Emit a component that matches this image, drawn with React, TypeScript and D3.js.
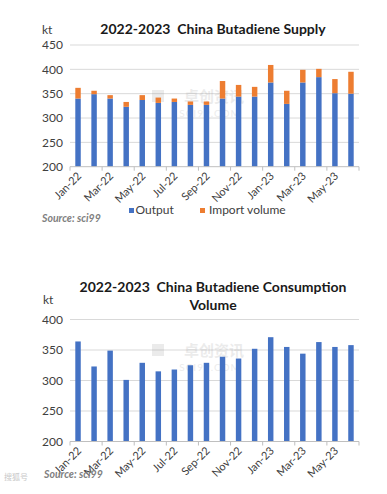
import * as d3 from "d3";

const months = [
  "Jan-22", "Feb-22", "Mar-22", "Apr-22", "May-22", "Jun-22",
  "Jul-22", "Aug-22", "Sep-22", "Oct-22", "Nov-22", "Dec-22",
  "Jan-23", "Feb-23", "Mar-23", "Apr-23", "May-23", "Jun-23",
];

// supply chart (kt)
const output = [340, 349, 340, 323, 337, 331, 333, 327, 327, 340, 344, 344, 373, 329, 373, 384, 351, 350];
const importVolume = [22, 7, 7, 10, 10, 11, 7, 7, 7, 36, 24, 20, 36, 27, 26, 17, 29, 45];
const supplyTicks = [200, 250, 300, 350, 400, 450];

// consumption chart (kt)
const consumption = [364, 323, 349, 301, 329, 315, 318, 325, 329, 339, 336, 352, 371, 355, 344, 363, 355, 358];
const consumptionTicks = [200, 250, 300, 350, 400];

const BLUE = "#4472c4";
const ORANGE = "#ed7d31";
const FONT = "Lato, 'Open Sans', sans-serif";

function YAxis({ ticks, x, y }: { ticks: number[]; x: d3.ScaleBand<string>; y: d3.ScaleLinear<number, number> }) {
  const [x0, x1] = x.range();
  return (
    <g>
      {ticks.map((t) => (
        <g key={t}>
          {t !== ticks[0] && (
            <line x1={x0} x2={x1} y1={y(t)} y2={y(t)} stroke="#d9d9d9" strokeWidth={1} />
          )}
          <text x={x0 - 7} y={y(t)} dy="0.35em" textAnchor="end" fontSize={12} fill="#404040">
            {t}
          </text>
        </g>
      ))}
    </g>
  );
}

function XAxis({ x, y0 }: { x: d3.ScaleBand<string>; y0: number }) {
  const [x0, x1] = x.range();
  const step = x.step();
  return (
    <g>
      <line x1={x0} x2={x1} y1={y0} y2={y0} stroke="#bfbfbf" />
      {months.map((m, i) =>
        i % 2 === 0 ? (
          <line key={m} x1={x0 + i * step} x2={x0 + i * step} y1={y0} y2={y0 + 4} stroke="#bfbfbf" />
        ) : null
      )}
      <line x1={x1} x2={x1} y1={y0} y2={y0 + 4} stroke="#bfbfbf" />
      {months.map((m, i) => {
        if (i % 2 !== 0) return null;
        const cx = (x(m) ?? 0) + x.bandwidth() / 2 + 4;
        const cy = y0 + 10;
        return (
          <text
            key={m}
            transform={`translate(${cx},${cy}) rotate(-45)`}
            textAnchor="end"
            fontSize={11}
            fill="#404040"
          >
            {m}
          </text>
        );
      })}
    </g>
  );
}

function Watermark({ cx, cy }: { cx: number; cy: number }) {
  return (
    <g opacity={0.16} fill="#8a8a8a">
      <rect x={cx - 58} y={cy - 18} width={12} height={12} />
      <text x={cx + 4} y={cy - 6} textAnchor="middle" fontSize={15} fontWeight="bold" fontFamily="'Noto Sans CJK SC'">
        卓创资讯
      </text>
      <text x={cx} y={cy + 9} textAnchor="middle" fontSize={10} letterSpacing={1}>
        SCI99.COM
      </text>
    </g>
  );
}

export default function App() {
  const xSupply = d3.scaleBand<string>().domain(months).range([70, 359]).paddingInner(0.66).paddingOuter(0.33);
  const ySupply = d3.scaleLinear().domain([200, 450]).range([166.7, 45]);
  const xCons = d3.scaleBand<string>().domain(months).range([70, 359]).paddingInner(0.66).paddingOuter(0.33);
  const yCons = d3.scaleLinear().domain([200, 400]).range([441.5, 319.5]);

  const stack = d3
    .stack<number>()
    .keys(["output", "import"])
    .value((i, key) => (key === "output" ? output[i] : importVolume[i]));
  const layers = stack(months.map((_, i) => i));
  const layerColors = [BLUE, ORANGE];

  return (
    <svg
      width={387}
      height={494}
      style={{ position: "absolute", left: 0, top: 0, background: "#fff" }}
      fontFamily={FONT}
    >
      <rect width={387} height={494} fill="#fff" />

      {/* supply chart */}
      <text x={213} y={34} textAnchor="middle" fontSize={14} fontWeight="bold" fill="#1a1a1a" style={{ whiteSpace: "pre" }}>
        {"2022-2023  China Butadiene Supply"}
      </text>
      <text x={42} y={34} fontSize={12} fill="#404040">kt</text>
      <YAxis ticks={supplyTicks} x={xSupply} y={ySupply} />
      <Watermark cx={210} cy={108} />
      {layers.map((layer, li) => (
        <g key={li} fill={layerColors[li]}>
          {layer.map((d, i) => (
            <rect
              key={i}
              x={xSupply(months[i])}
              y={ySupply(Math.max(d[1], 200))}
              width={xSupply.bandwidth()}
              height={ySupply(Math.max(d[0], 200)) - ySupply(Math.max(d[1], 200))}
            />
          ))}
        </g>
      ))}
      <XAxis x={xSupply} y0={166.7} />
      <g fontSize={12} fill="#404040">
        <rect x={129} y={208} width={5} height={5} fill={BLUE} />
        <text x={135.5} y={214}>Output</text>
        <rect x={200} y={208} width={5} height={5} fill={ORANGE} />
        <text x={209} y={214}>Import volume</text>
      </g>
      <text x={42} y={222} fontSize={10.5} fontWeight="bold" fontStyle="italic" fill="#808080">
        Source: sci99
      </text>

      {/* consumption chart */}
      <text x={213} y={292} textAnchor="middle" fontSize={14} fontWeight="bold" fill="#1a1a1a" style={{ whiteSpace: "pre" }}>
        {"2022-2023  China Butadiene Consumption"}
      </text>
      <text x={213} y={310} textAnchor="middle" fontSize={14} fontWeight="bold" fill="#1a1a1a">
        Volume
      </text>
      <text x={43} y={304} fontSize={12} fill="#404040">kt</text>
      <YAxis ticks={consumptionTicks} x={xCons} y={yCons} />
      <Watermark cx={210} cy={362} />
      <g fill={BLUE}>
        {consumption.map((v, i) => (
          <rect
            key={i}
            x={xCons(months[i])}
            y={yCons(v)}
            width={xCons.bandwidth()}
            height={yCons(200) - yCons(v)}
          />
        ))}
      </g>
      <XAxis x={xCons} y0={441.5} />
      <text x={44} y={478} fontSize={10.5} fontWeight="bold" fontStyle="italic" fill="#808080">
        Source: sci99
      </text>
      <text x={4} y={480} fontSize={8} fill="#c8c8c8" fontFamily="'Noto Sans CJK SC'">
        搜狐号
      </text>
    </svg>
  );
}
